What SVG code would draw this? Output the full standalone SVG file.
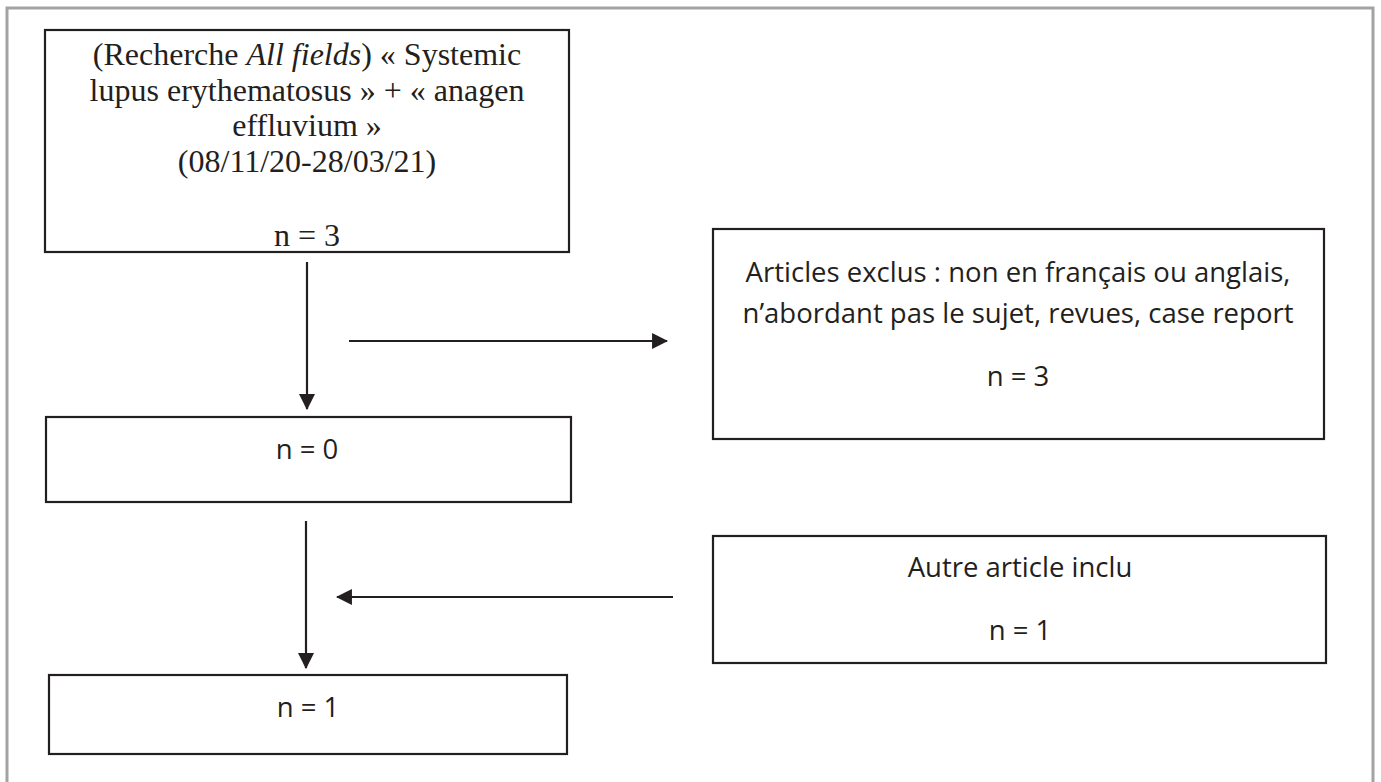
<svg xmlns="http://www.w3.org/2000/svg" width="1381" height="782" viewBox="0 0 1381 782">
<style>
.frame{fill:none;stroke:#a3a3a3;stroke-width:3}
.box{fill:#ffffff;stroke:#231f20;stroke-width:2.2}
.serif{font-family:"Liberation Serif","Times New Roman",serif;font-size:32px;fill:#231f20;text-anchor:middle}
.sans{font-family:"Open Sans","Noto Sans",sans-serif;font-size:27.5px;fill:#231f20;text-anchor:middle}
.conn{stroke:#231f20;stroke-width:2.2;fill:none;marker-end:url(#ah)}
</style>
<defs>
<marker id="ah" markerUnits="userSpaceOnUse" markerWidth="16" markerHeight="16" viewBox="0 0 15 15" refX="14" refY="7.5" orient="auto">
<path d="M0,0 L15,7.5 L0,15 z" fill="#231f20"/>
</marker>
</defs>
<rect width="1381" height="782" fill="#ffffff"/>
<rect class="frame" x="7" y="8" width="1366" height="800"/>
<g id="connectors">
<line class="conn" x1="307" y1="262" x2="307" y2="409"/>
<line class="conn" x1="349" y1="341" x2="667" y2="341"/>
<line class="conn" x1="306" y1="521" x2="306" y2="668"/>
<line class="conn" x1="673" y1="597" x2="337" y2="597"/>
</g>
<g id="node-search">
<rect class="box" x="45" y="30" width="524" height="222"/>
<text class="serif" x="307" y="65">(Recherche <tspan font-style="italic">All fields</tspan>) « Systemic</text>
<text class="serif" x="307" y="100.5">lupus erythematosus » + « anagen</text>
<text class="serif" x="307" y="136">effluvium »</text>
<text class="serif" x="307" y="171.5">(08/11/20-28/03/21)</text>
<text class="serif" x="307" y="246">n = 3</text>
</g>
<g id="node-n0">
<rect class="box" x="46" y="417" width="525" height="85"/>
<text class="sans" x="307" y="459">n = 0</text>
</g>
<g id="node-excluded">
<rect class="box" x="713" y="229" width="611" height="210"/>
<text class="sans" x="1018" y="282">Articles exclus : non en français ou anglais,</text>
<text class="sans" x="1018" y="323">n’abordant pas le sujet, revues, case report</text>
<text class="sans" x="1018" y="386">n = 3</text>
</g>
<g id="node-other">
<rect class="box" x="713" y="536" width="613" height="127"/>
<text class="sans" x="1020" y="577">Autre article inclu</text>
<text class="sans" x="1020" y="640">n = 1</text>
</g>
<g id="node-n1">
<rect class="box" x="49" y="675" width="518" height="79"/>
<text class="sans" x="308" y="717">n = 1</text>
</g>
</svg>
